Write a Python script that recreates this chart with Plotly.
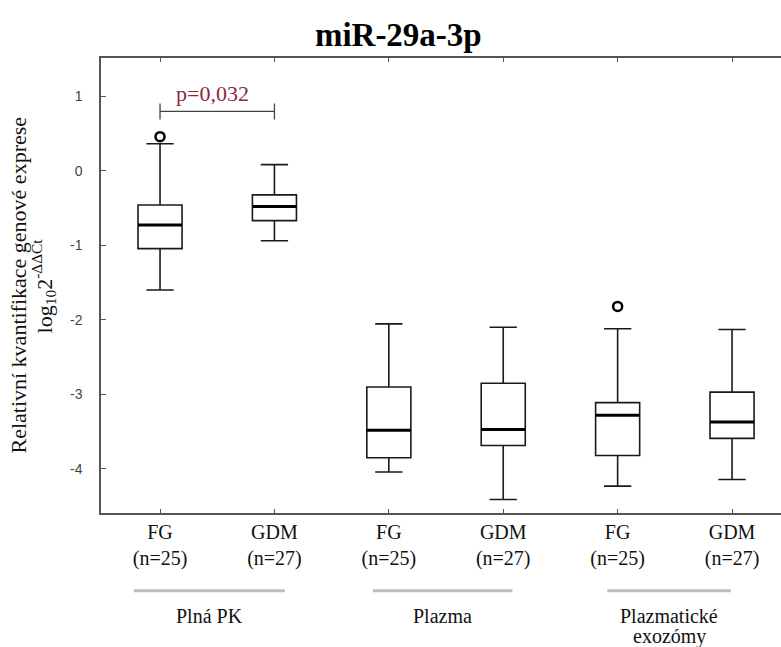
import plotly.graph_objects as go

# ---- data ----
positions = [1, 2, 3, 4, 5, 6]
tick_labels = ["FG<br>(n=25)", "GDM<br>(n=27)", "FG<br>(n=25)", "GDM<br>(n=27)", "FG<br>(n=25)", "GDM<br>(n=27)"]
y_ticks = [1, 0, -1, -2, -3, -4]
y_tick_labels = ["1", "0", "-1", "-2", "-3", "-4"]
lower_whisker = [-1.60, -0.94, -4.04, -4.41, -4.23, -4.14]
q1 = [-1.045, -0.67, -3.85, -3.685, -3.82, -3.59]
median = [-0.73, -0.48, -3.48, -3.47, -3.28, -3.37]
q3 = [-0.46, -0.325, -2.90, -2.85, -3.11, -2.97]
upper_whisker = [0.36, 0.08, -2.055, -2.10, -2.12, -2.13]
outlier_pos = [1, 5]
outlier_val = [0.455, -1.82]
groups = ["Plná PK", "Plazma", "Plazmatické<br>exozómy"]
p_text = "p=0,032"
p_pair = [1, 2]

# ---- styles / layout ----
BOX_W = 0.385
SERIF = "Liberation Serif"
SANS = "Liberation Sans"
group_line_extent = [(0.77, 2.09), (2.86, 4.08), (4.91, 5.99)]

fig = go.Figure()

for i, p in enumerate(positions):
    fig.add_trace(go.Box(
        x=[p], q1=[q1[i]], median=[median[i]], q3=[q3[i]],
        lowerfence=[lower_whisker[i]], upperfence=[upper_whisker[i]],
        width=BOX_W, whiskerwidth=0.62,
        fillcolor="white", line=dict(color="#1a1a1a", width=1.6),
        boxpoints=False, showlegend=False, hoverinfo="skip",
    ))
    fig.add_trace(go.Scatter(
        x=[p - BOX_W / 2, p + BOX_W / 2], y=[median[i], median[i]],
        mode="lines", line=dict(color="black", width=3),
        showlegend=False, hoverinfo="skip",
    ))

fig.add_trace(go.Scatter(
    x=outlier_pos, y=outlier_val, mode="markers",
    marker=dict(symbol="circle-open", size=9, color="black", line=dict(width=2.5)),
    showlegend=False, hoverinfo="skip",
))

# significance bracket
by = 0.795
fig.add_trace(go.Scatter(
    x=[p_pair[0], p_pair[0], None, p_pair[0], p_pair[1], None, p_pair[1], p_pair[1]],
    y=[by + 0.105, by - 0.11, None, by, by, None, by + 0.105, by - 0.11],
    mode="lines", line=dict(color="#444", width=1.3),
    showlegend=False, hoverinfo="skip",
))
fig.add_annotation(
    x=(p_pair[0] + p_pair[1]) / 2 - 0.04, y=by + 0.24, xref="x", yref="y",
    text=p_text, showarrow=False,
    font=dict(family=SERIF, size=22, color="#8B2A3E"),
)

# group lines and labels
for g, (a, b) in zip(groups, group_line_extent):
    fig.add_shape(type="line", xref="x", yref="paper", x0=a, x1=b, y0=-0.171, y1=-0.171,
                  line=dict(color="#bdbdbd", width=3))
    for k, line in enumerate(g.split("<br>")):
        fig.add_annotation(
            x=(a + b) / 2, y=-0.197 - k * 0.045, xref="x", yref="paper", yanchor="top",
            text=line, showarrow=False,
            font=dict(family=SERIF, size=20, color="#111"),
        )

# y-axis title (two lines)
fig.add_annotation(
    x=-0.122, y=0.5, xref="paper", yref="paper", xanchor="center", yanchor="middle",
    text="Relativní kvantifikace genové exprese",
    textangle=-90, showarrow=False,
    font=dict(family=SERIF, size=22, color="#111"),
)
fig.add_annotation(
    x=-0.084, y=0.5, xref="paper", yref="paper", xanchor="center", yanchor="middle",
    text="log<sub>10</sub>2<sup>-ΔΔCt</sup>",
    textangle=-90, showarrow=False,
    font=dict(family=SERIF, size=22, color="#111"),
)

fig.update_layout(
    width=781, height=647,
    margin=dict(l=101, r=0, t=58, b=134),
    paper_bgcolor="white", plot_bgcolor="white",
    title=dict(text="<b>miR-29a-3p</b>", x=0.51, xanchor="center", y=0.946, yanchor="middle",
               font=dict(family=SERIF, size=33, color="black")),
    xaxis=dict(
        range=[0.484, 6.428], tickvals=positions, ticktext=tick_labels,
        showline=True, linecolor="#555", linewidth=1.5, mirror="ticks",
        ticks="inside", ticklen=4, tickcolor="#555", showgrid=False, zeroline=False,
        tickfont=dict(family=SERIF, size=20, color="#111"),
    ),
    yaxis=dict(
        range=[-4.59, 1.51], tickvals=y_ticks, ticktext=y_tick_labels,
        showline=True, linecolor="#555", linewidth=1.5,
        ticks="inside", ticklen=5, tickcolor="#555", showgrid=False, zeroline=False,
        tickfont=dict(family=SANS, size=14, color="#444"), ticklabelstandoff=14,
    ),
)

fig.write_html("out.html")
